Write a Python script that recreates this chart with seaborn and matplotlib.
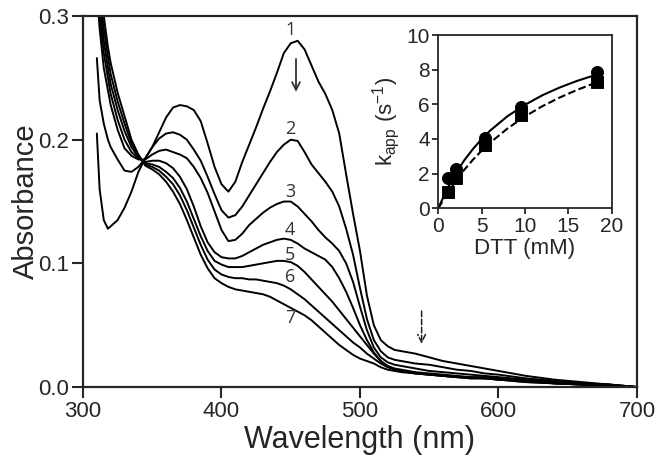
import numpy as np
import pandas as pd
import matplotlib
matplotlib.use("Agg")
import matplotlib.pyplot as plt
import seaborn as sns

sns.set_style("ticks")
plt.rcParams['font.family'] = ['Liberation Sans', 'DejaVu Sans']

# wavelengths (nm) shared by all seven spectra
wavelengths = [310, 312, 315, 318, 320, 325, 330, 335, 340, 345, 350, 355, 360, 365, 370,
               375, 380, 385, 390, 395, 400, 405, 410, 415, 420, 425, 430, 435, 440, 445,
               450, 455, 460, 465, 470, 475, 480, 485, 490, 495, 500, 505, 510, 515, 520,
               525, 530, 540, 550, 560, 570, 580, 590, 600, 620, 640, 660, 680, 700]

abs_1 = [0.205, 0.160, 0.135, 0.128, 0.130, 0.135, 0.145, 0.158, 0.174, 0.185, 0.194, 0.206, 0.218, 0.226, 0.228,
         0.227, 0.224, 0.215, 0.197, 0.178, 0.164, 0.158, 0.166, 0.182, 0.196, 0.210, 0.225, 0.239, 0.254, 0.270,
         0.278, 0.280, 0.273, 0.260, 0.247, 0.237, 0.224, 0.205, 0.172, 0.140, 0.110, 0.074, 0.050, 0.038, 0.033,
         0.030, 0.029, 0.027, 0.024, 0.021, 0.019, 0.017, 0.015, 0.013, 0.009, 0.006, 0.004, 0.002, 0.000]
abs_2 = [0.266, 0.232, 0.213, 0.200, 0.194, 0.184, 0.175, 0.174, 0.178, 0.185, 0.194, 0.201, 0.205, 0.206, 0.204,
         0.200, 0.192, 0.183, 0.170, 0.156, 0.143, 0.137, 0.139, 0.146, 0.155, 0.164, 0.173, 0.182, 0.190, 0.196,
         0.200, 0.199, 0.190, 0.180, 0.173, 0.166, 0.158, 0.146, 0.128, 0.107, 0.080, 0.055, 0.038, 0.029, 0.024,
         0.022, 0.021, 0.019, 0.018, 0.016, 0.014, 0.013, 0.011, 0.010, 0.007, 0.005, 0.003, 0.002, 0.000]
abs_3 = [0.320, 0.290, 0.258, 0.240, 0.228, 0.208, 0.193, 0.187, 0.184, 0.184, 0.188, 0.191, 0.192, 0.190, 0.188,
         0.185, 0.178, 0.169, 0.157, 0.142, 0.127, 0.118, 0.119, 0.124, 0.131, 0.136, 0.141, 0.145, 0.148, 0.150,
         0.150, 0.146, 0.140, 0.134, 0.127, 0.121, 0.116, 0.110, 0.100, 0.085, 0.065, 0.046, 0.032, 0.024, 0.020,
         0.018, 0.017, 0.015, 0.013, 0.012, 0.011, 0.010, 0.009, 0.008, 0.006, 0.004, 0.003, 0.002, 0.000]
abs_4 = [0.330, 0.300, 0.270, 0.250, 0.237, 0.216, 0.200, 0.190, 0.185, 0.182, 0.183, 0.183, 0.181, 0.177, 0.170,
         0.160, 0.146, 0.130, 0.117, 0.109, 0.105, 0.104, 0.104, 0.106, 0.109, 0.112, 0.115, 0.117, 0.119, 0.120,
         0.119, 0.116, 0.112, 0.109, 0.106, 0.103, 0.097, 0.088, 0.077, 0.064, 0.050, 0.038, 0.028, 0.021, 0.017,
         0.015, 0.014, 0.012, 0.011, 0.010, 0.009, 0.008, 0.008, 0.007, 0.005, 0.003, 0.002, 0.001, 0.000]
abs_5 = [0.340, 0.310, 0.280, 0.258, 0.245, 0.224, 0.207, 0.194, 0.186, 0.181, 0.180, 0.178, 0.174, 0.169, 0.161,
         0.150, 0.136, 0.122, 0.110, 0.102, 0.099, 0.097, 0.097, 0.097, 0.098, 0.099, 0.100, 0.101, 0.102, 0.102,
         0.101, 0.098, 0.093, 0.087, 0.081, 0.075, 0.069, 0.062, 0.055, 0.048, 0.041, 0.034, 0.027, 0.021, 0.017,
         0.014, 0.013, 0.011, 0.010, 0.009, 0.008, 0.008, 0.007, 0.006, 0.005, 0.003, 0.002, 0.001, 0.000]
abs_6 = [0.350, 0.320, 0.290, 0.267, 0.253, 0.231, 0.213, 0.197, 0.187, 0.180, 0.178, 0.175, 0.170, 0.164, 0.155,
         0.143, 0.129, 0.115, 0.103, 0.095, 0.091, 0.089, 0.088, 0.088, 0.087, 0.087, 0.086, 0.085, 0.084, 0.082,
         0.079, 0.075, 0.071, 0.066, 0.061, 0.056, 0.051, 0.046, 0.041, 0.036, 0.032, 0.027, 0.023, 0.019, 0.016,
         0.014, 0.013, 0.011, 0.010, 0.009, 0.008, 0.007, 0.007, 0.006, 0.004, 0.003, 0.002, 0.001, 0.000]
abs_7 = [0.360, 0.330, 0.300, 0.275, 0.262, 0.238, 0.219, 0.200, 0.188, 0.179, 0.176, 0.172, 0.166, 0.158, 0.148,
         0.135, 0.121, 0.107, 0.096, 0.088, 0.084, 0.081, 0.079, 0.078, 0.077, 0.076, 0.075, 0.073, 0.070, 0.067,
         0.064, 0.061, 0.058, 0.054, 0.049, 0.044, 0.039, 0.034, 0.030, 0.026, 0.023, 0.021, 0.019, 0.016, 0.014,
         0.013, 0.012, 0.011, 0.010, 0.009, 0.008, 0.007, 0.007, 0.006, 0.004, 0.003, 0.002, 0.001, 0.000]
spectra = [abs_1, abs_2, abs_3, abs_4, abs_5, abs_6, abs_7]
scan_labels = ["1", "2", "3", "4", "5", "6", "7"]
label_y = [0.2885, 0.2087, 0.158, 0.127, 0.107, 0.089, 0.0556]

# inset: k_app vs DTT
dtt = [1.08, 2.1, 5.39, 9.54, 18.27]
kapp_circle = [1.77, 2.27, 4.07, 5.86, 7.88]
kapp_square = [0.96, 1.77, 3.65, 5.40, 7.30]
fit_x = [0, 1, 2, 3, 4, 5, 6, 8, 10, 12, 14, 16, 18.3]
fit_solid = [0, 1.09, 2.00, 2.77, 3.42, 3.99, 4.49, 5.32, 5.97, 6.52, 6.97, 7.35, 7.72]
fit_dashed = [0, 0.83, 1.56, 2.22, 2.80, 3.32, 3.79, 4.61, 5.30, 5.89, 6.39, 6.83, 7.27]

df = pd.DataFrame({
    "wl": np.tile(wavelengths, len(spectra)),
    "A": np.concatenate(spectra),
    "scan": np.repeat(scan_labels, len(wavelengths)),
})

fig = plt.figure(figsize=(6.64, 4.65), dpi=100)
ax = fig.add_axes([0.125, 0.1677, 0.8343, 0.7978])
sns.lineplot(data=df, x="wl", y="A", units="scan", estimator=None, color="black",
             lw=1.4, ax=ax, legend=False)
ax.set_xlim(300, 700)
ax.set_ylim(0, 0.3)
ax.set_xticks([300, 400, 500, 600, 700])
ax.set_yticks([0.0, 0.1, 0.2, 0.3])
ax.set_yticklabels(["0.0", "0.1", "0.2", "0.3"])
ax.tick_params(axis="both", which="major", labelsize=16, length=8, width=1.5, direction="out",
               top=False, right=False, pad=2)
for sp in ax.spines.values():
    sp.set_linewidth(1.6)
ax.set_xlabel("Wavelength (nm)", fontsize=22, labelpad=2)
ax.set_ylabel("Absorbance", fontsize=21)
ax.yaxis.set_label_coords(-0.078, 0.5)

for lab, yy in zip(scan_labels, label_y):
    ax.text(449.5, yy, lab, fontsize=13, color="#333333", ha="center", va="center",
            family=["Open Sans", "DejaVu Sans"])

ax.annotate("", xy=(453.8, 0.2364), xytext=(453.8, 0.2675),
            arrowprops=dict(arrowstyle="->", lw=1.3, color="#333333", mutation_scale=14))
ax.annotate("", xy=(544.5, 0.0326), xytext=(544.5, 0.0637),
            arrowprops=dict(arrowstyle="->", lw=1.1, color="#222222", linestyle="--",
                            mutation_scale=14))

# inset
ins = fig.add_axes([0.660, 0.552, 0.2611, 0.3727])
sns.lineplot(x=fit_x, y=fit_solid, color="black", lw=1.5, ax=ins)
sns.lineplot(x=fit_x, y=fit_dashed, color="black", lw=1.5, ax=ins, linestyle="--")
sns.scatterplot(x=dtt, y=kapp_circle, marker="o", s=75, color="black", edgecolor="black", ax=ins, zorder=3)
sns.scatterplot(x=dtt, y=kapp_square, marker="s", s=70, color="black", edgecolor="black", ax=ins, zorder=3)
ins.set_xlim(0, 20)
ins.set_ylim(0, 10)
ins.set_xticks([0, 5, 10, 15, 20])
ins.set_yticks([0, 2, 4, 6, 8, 10])
ins.tick_params(axis="both", labelsize=15, length=4, width=1.3, pad=2, top=False, right=False)
for sp in ins.spines.values():
    sp.set_linewidth(1.3)
ins.set_xlabel("DTT (mM)", fontsize=16, labelpad=2)
ins.set_ylabel(r"k$_{\mathregular{app}}$ (s$^{\mathregular{-1}}$)", fontsize=16, labelpad=3)

fig.savefig("out.png", dpi=100)
